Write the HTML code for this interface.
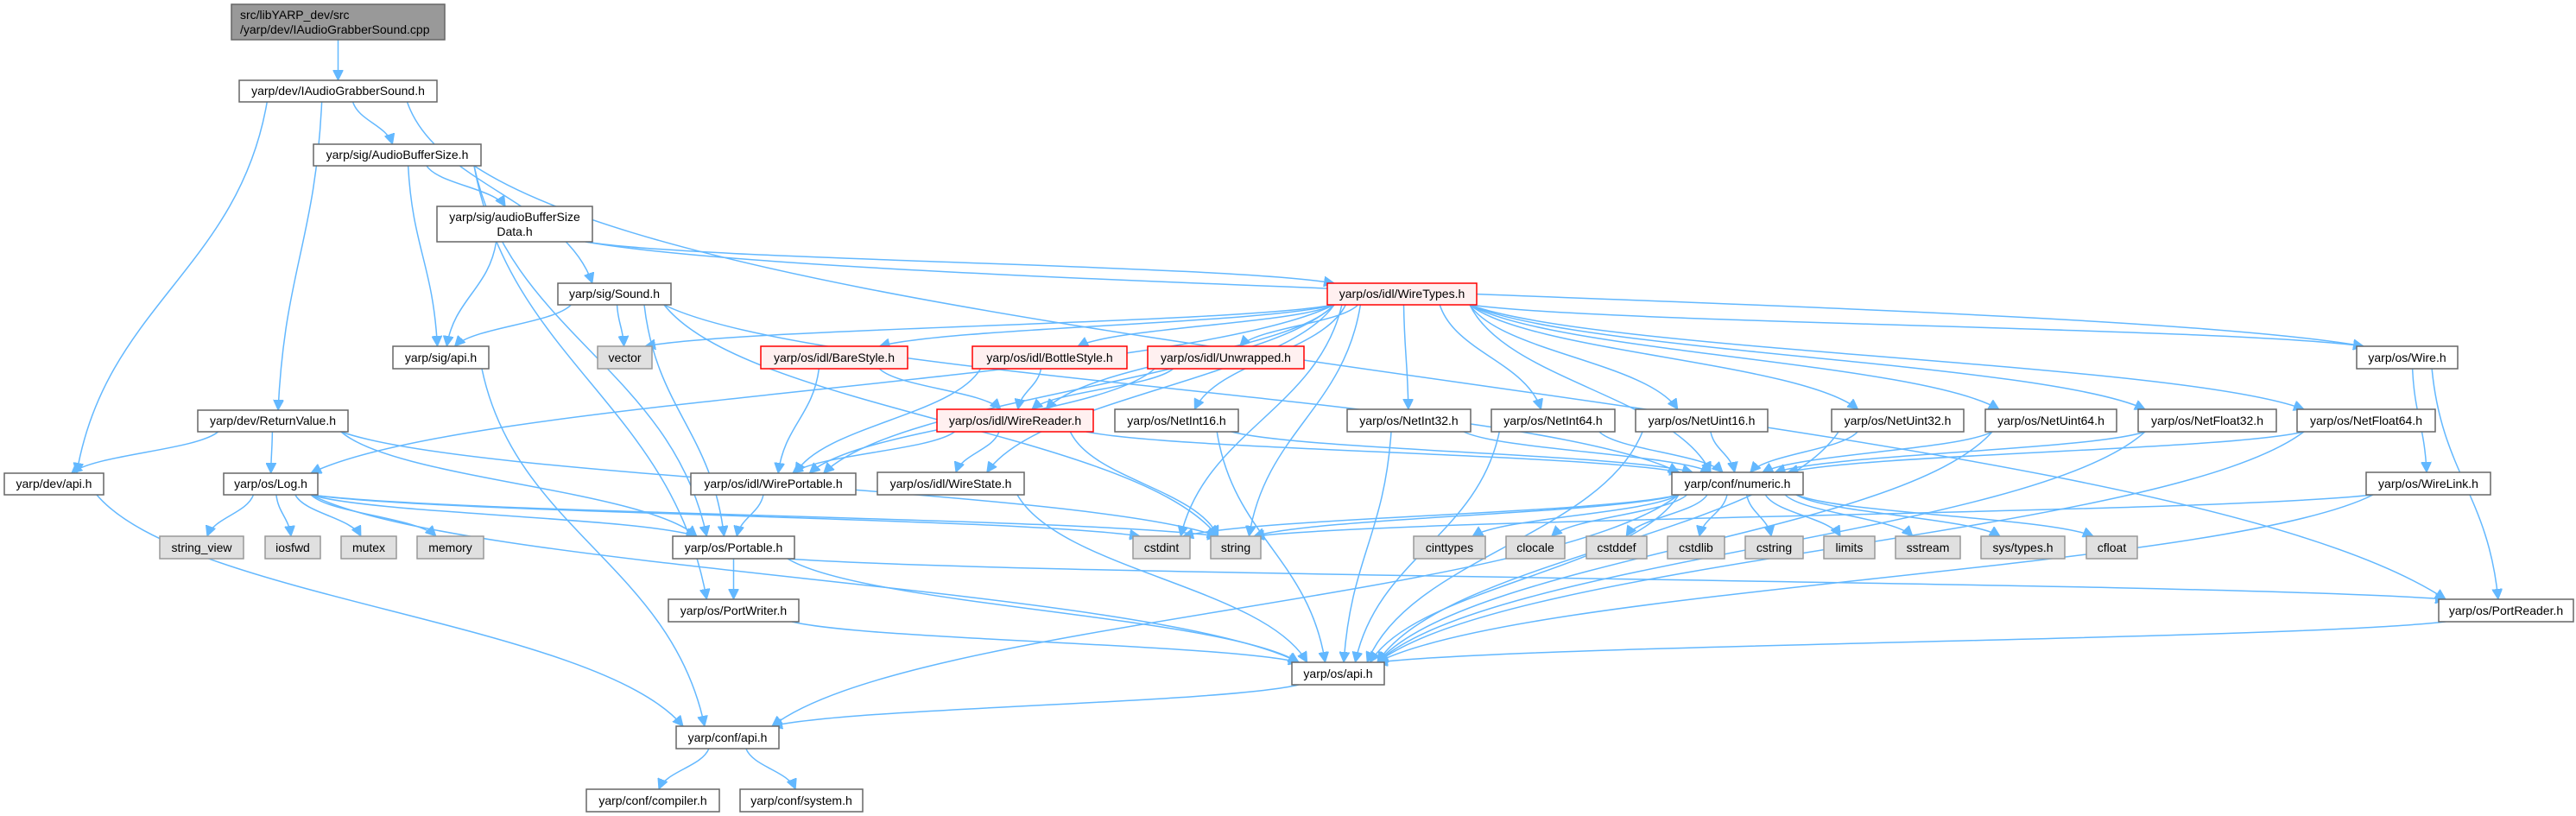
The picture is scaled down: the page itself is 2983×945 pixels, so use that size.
<!DOCTYPE html>
<html><head><meta charset="utf-8"><style>
html,body{margin:0;padding:0;background:#fff;}
svg{display:block;}
text{font-family:"Liberation Sans","DejaVu Sans",sans-serif;font-size:14px;fill:#000;}
.n rect{fill:#fff;stroke:#666;stroke-width:1.5;}
.g rect{fill:#e0e0e0;stroke:#999;stroke-width:1.5;}
.r rect{fill:#fff0f0;stroke:#f00;stroke-width:1.5;}
.c rect{fill:#999;stroke:#666;stroke-width:1.5;}
#edges path{fill:none;stroke:#63b8ff;stroke-width:1.5;}
</style></head><body>
<svg id="s" width="2983" height="945" viewBox="0 0 2983 945" xmlns="http://www.w3.org/2000/svg">
<defs><marker id="a" markerUnits="userSpaceOnUse" markerWidth="14" markerHeight="12" refX="12" refY="6" orient="auto"><path d="M0,0 L12,6 L0,12 z" fill="#63b8ff" stroke="#63b8ff"/></marker></defs>
<g id="edges"></g>
<g id="nodes">
<g class="c" id="cpp" data-r="268,5,247,41"><rect x="268" y="5" width="247" height="41"/><text x="278" y="22">src/libYARP_dev/src</text><text x="278" y="39">/yarp/dev/IAudioGrabberSound.cpp</text></g>
<g class="n" id="IAGS" data-r="277,93,229,25"><rect x="277" y="93" width="229" height="25"/><text x="391.5" y="110" text-anchor="middle">yarp/dev/IAudioGrabberSound.h</text></g>
<g class="n" id="ABS" data-r="363,167,194,25"><rect x="363" y="167" width="194" height="25"/><text x="460" y="184" text-anchor="middle">yarp/sig/AudioBufferSize.h</text></g>
<g class="n" id="ABSD" data-r="506,239,180,41"><rect x="506" y="239" width="180" height="41"/><text x="596" y="256" text-anchor="middle">yarp/sig/audioBufferSize</text><text x="596" y="273" text-anchor="middle">Data.h</text></g>
<g class="n" id="Sound" data-r="646,328,131,25"><rect x="646" y="328" width="131" height="25"/><text x="711.5" y="345" text-anchor="middle">yarp/sig/Sound.h</text></g>
<g class="n" id="sigapi" data-r="455,401,111,26"><rect x="455" y="401" width="111" height="26"/><text x="510.5" y="419" text-anchor="middle">yarp/sig/api.h</text></g>
<g class="g" id="vector" data-r="692,401,63,26"><rect x="692" y="401" width="63" height="26"/><text x="723.5" y="419" text-anchor="middle">vector</text></g>
<g class="r" id="BareStyle" data-r="881,401,170,26"><rect x="881" y="401" width="170" height="26"/><text x="966" y="419" text-anchor="middle">yarp/os/idl/BareStyle.h</text></g>
<g class="r" id="BottleStyle" data-r="1126,401,179,26"><rect x="1126" y="401" width="179" height="26"/><text x="1215.5" y="419" text-anchor="middle">yarp/os/idl/BottleStyle.h</text></g>
<g class="r" id="Unwrapped" data-r="1329,401,181,26"><rect x="1329" y="401" width="181" height="26"/><text x="1419.5" y="419" text-anchor="middle">yarp/os/idl/Unwrapped.h</text></g>
<g class="r" id="WireTypes" data-r="1537,328,173,25"><rect x="1537" y="328" width="173" height="25"/><text x="1623.5" y="345" text-anchor="middle">yarp/os/idl/WireTypes.h</text></g>
<g class="n" id="Wire" data-r="2729,401,117,26"><rect x="2729" y="401" width="117" height="26"/><text x="2787.5" y="419" text-anchor="middle">yarp/os/Wire.h</text></g>
<g class="n" id="ReturnValue" data-r="229,475,174,25"><rect x="229" y="475" width="174" height="25"/><text x="316" y="492" text-anchor="middle">yarp/dev/ReturnValue.h</text></g>
<g class="r" id="WireReader" data-r="1085,474,181,26"><rect x="1085" y="474" width="181" height="26"/><text x="1175.5" y="492" text-anchor="middle">yarp/os/idl/WireReader.h</text></g>
<g class="n" id="NetInt16" data-r="1291,474,143,26"><rect x="1291" y="474" width="143" height="26"/><text x="1362.5" y="492" text-anchor="middle">yarp/os/NetInt16.h</text></g>
<g class="n" id="NetInt32" data-r="1560,474,143,26"><rect x="1560" y="474" width="143" height="26"/><text x="1631.5" y="492" text-anchor="middle">yarp/os/NetInt32.h</text></g>
<g class="n" id="NetInt64" data-r="1727,474,143,26"><rect x="1727" y="474" width="143" height="26"/><text x="1798.5" y="492" text-anchor="middle">yarp/os/NetInt64.h</text></g>
<g class="n" id="NetUint16" data-r="1894,474,153,26"><rect x="1894" y="474" width="153" height="26"/><text x="1970.5" y="492" text-anchor="middle">yarp/os/NetUint16.h</text></g>
<g class="n" id="NetUint32" data-r="2121,474,153,26"><rect x="2121" y="474" width="153" height="26"/><text x="2197.5" y="492" text-anchor="middle">yarp/os/NetUint32.h</text></g>
<g class="n" id="NetUint64" data-r="2299,474,152,26"><rect x="2299" y="474" width="152" height="26"/><text x="2375" y="492" text-anchor="middle">yarp/os/NetUint64.h</text></g>
<g class="n" id="NetFloat32" data-r="2476,474,160,26"><rect x="2476" y="474" width="160" height="26"/><text x="2556" y="492" text-anchor="middle">yarp/os/NetFloat32.h</text></g>
<g class="n" id="NetFloat64" data-r="2660,474,160,26"><rect x="2660" y="474" width="160" height="26"/><text x="2740" y="492" text-anchor="middle">yarp/os/NetFloat64.h</text></g>
<g class="n" id="devapi" data-r="5,548,115,25"><rect x="5" y="548" width="115" height="25"/><text x="62.5" y="565" text-anchor="middle">yarp/dev/api.h</text></g>
<g class="n" id="Log" data-r="259,548,109,25"><rect x="259" y="548" width="109" height="25"/><text x="313.5" y="565" text-anchor="middle">yarp/os/Log.h</text></g>
<g class="n" id="WirePortable" data-r="800,548,191,25"><rect x="800" y="548" width="191" height="25"/><text x="895.5" y="565" text-anchor="middle">yarp/os/idl/WirePortable.h</text></g>
<g class="n" id="WireState" data-r="1016,547,170,26"><rect x="1016" y="547" width="170" height="26"/><text x="1101" y="565" text-anchor="middle">yarp/os/idl/WireState.h</text></g>
<g class="n" id="numeric" data-r="1936,547,152,26"><rect x="1936" y="547" width="152" height="26"/><text x="2012" y="565" text-anchor="middle">yarp/conf/numeric.h</text></g>
<g class="n" id="WireLink" data-r="2740,547,144,26"><rect x="2740" y="547" width="144" height="26"/><text x="2812" y="565" text-anchor="middle">yarp/os/WireLink.h</text></g>
<g class="g" id="string_view" data-r="185,621,97,26"><rect x="185" y="621" width="97" height="26"/><text x="233.5" y="639" text-anchor="middle">string_view</text></g>
<g class="g" id="iosfwd" data-r="307,621,64,26"><rect x="307" y="621" width="64" height="26"/><text x="339" y="639" text-anchor="middle">iosfwd</text></g>
<g class="g" id="mutex" data-r="395,621,64,26"><rect x="395" y="621" width="64" height="26"/><text x="427" y="639" text-anchor="middle">mutex</text></g>
<g class="g" id="memory" data-r="483,621,77,26"><rect x="483" y="621" width="77" height="26"/><text x="521.5" y="639" text-anchor="middle">memory</text></g>
<g class="g" id="cstdint" data-r="1312,621,66,26"><rect x="1312" y="621" width="66" height="26"/><text x="1345" y="639" text-anchor="middle">cstdint</text></g>
<g class="g" id="string" data-r="1402,621,58,26"><rect x="1402" y="621" width="58" height="26"/><text x="1431" y="639" text-anchor="middle">string</text></g>
<g class="g" id="cinttypes" data-r="1637,621,83,26"><rect x="1637" y="621" width="83" height="26"/><text x="1678.5" y="639" text-anchor="middle">cinttypes</text></g>
<g class="g" id="clocale" data-r="1744,621,68,26"><rect x="1744" y="621" width="68" height="26"/><text x="1778" y="639" text-anchor="middle">clocale</text></g>
<g class="g" id="cstddef" data-r="1837,621,70,26"><rect x="1837" y="621" width="70" height="26"/><text x="1872" y="639" text-anchor="middle">cstddef</text></g>
<g class="g" id="cstdlib" data-r="1931,621,66,26"><rect x="1931" y="621" width="66" height="26"/><text x="1964" y="639" text-anchor="middle">cstdlib</text></g>
<g class="g" id="cstring" data-r="2021,621,67,26"><rect x="2021" y="621" width="67" height="26"/><text x="2054.5" y="639" text-anchor="middle">cstring</text></g>
<g class="g" id="limits" data-r="2112,621,59,26"><rect x="2112" y="621" width="59" height="26"/><text x="2141.5" y="639" text-anchor="middle">limits</text></g>
<g class="g" id="sstream" data-r="2195,621,75,26"><rect x="2195" y="621" width="75" height="26"/><text x="2232.5" y="639" text-anchor="middle">sstream</text></g>
<g class="g" id="systypes" data-r="2294,621,97,26"><rect x="2294" y="621" width="97" height="26"/><text x="2342.5" y="639" text-anchor="middle">sys/types.h</text></g>
<g class="g" id="cfloat" data-r="2416,621,59,26"><rect x="2416" y="621" width="59" height="26"/><text x="2445.5" y="639" text-anchor="middle">cfloat</text></g>
<g class="n" id="Portable" data-r="779,621,141,26"><rect x="779" y="621" width="141" height="26"/><text x="849.5" y="639" text-anchor="middle">yarp/os/Portable.h</text></g>
<g class="n" id="PortWriter" data-r="774,694,151,26"><rect x="774" y="694" width="151" height="26"/><text x="849.5" y="712" text-anchor="middle">yarp/os/PortWriter.h</text></g>
<g class="n" id="PortReader" data-r="2824,694,156,26"><rect x="2824" y="694" width="156" height="26"/><text x="2902" y="712" text-anchor="middle">yarp/os/PortReader.h</text></g>
<g class="n" id="osapi" data-r="1496,767,107,26"><rect x="1496" y="767" width="107" height="26"/><text x="1549.5" y="785" text-anchor="middle">yarp/os/api.h</text></g>
<g class="n" id="confapi" data-r="783,841,119,26"><rect x="783" y="841" width="119" height="26"/><text x="842.5" y="859" text-anchor="middle">yarp/conf/api.h</text></g>
<g class="n" id="compiler" data-r="679,914,154,26"><rect x="679" y="914" width="154" height="26"/><text x="756" y="932" text-anchor="middle">yarp/conf/compiler.h</text></g>
<g class="n" id="system" data-r="857,914,142,26"><rect x="857" y="914" width="142" height="26"/><text x="928" y="932" text-anchor="middle">yarp/conf/system.h</text></g>
</g>
</svg>
<script>
(function(){
var E="cpp>IAGS IAGS>ABS IAGS>devapi IAGS>ReturnValue IAGS>Sound ABS>ABSD ABS>sigapi ABS>PortReader ABS>Portable ABS>PortWriter ABSD>sigapi ABSD>WireTypes ABSD>Wire Sound>sigapi Sound>vector Sound>Portable Sound>string Sound>numeric sigapi>confapi ReturnValue>devapi ReturnValue>Log ReturnValue>Portable ReturnValue>string devapi>confapi Log>string_view Log>iosfwd Log>mutex Log>memory Log>cstdint Log>string Log>osapi Log>Portable WireTypes>BareStyle WireTypes>BottleStyle WireTypes>Unwrapped WireTypes>WireReader WireTypes>NetInt16 WireTypes>NetInt32 WireTypes>NetInt64 WireTypes>NetUint16 WireTypes>NetUint32 WireTypes>NetUint64 WireTypes>NetFloat32 WireTypes>NetFloat64 WireTypes>Wire WireTypes>WireState WireTypes>WirePortable WireTypes>Log WireTypes>vector WireTypes>cstdint WireTypes>string WireTypes>numeric BareStyle>WireReader BareStyle>WirePortable BottleStyle>WireReader BottleStyle>WirePortable Unwrapped>WireReader Unwrapped>WirePortable WireReader>WirePortable WireReader>WireState WireReader>string WireReader>numeric WirePortable>Portable WireState>osapi NetInt16>numeric NetInt16>osapi NetInt32>numeric NetInt32>osapi NetInt64>numeric NetInt64>osapi NetUint16>numeric NetUint16>osapi NetUint32>numeric NetUint32>osapi NetUint64>numeric NetUint64>osapi NetFloat32>numeric NetFloat32>osapi NetFloat64>numeric NetFloat64>osapi numeric>cstdint numeric>string numeric>cinttypes numeric>clocale numeric>cstddef numeric>cstdlib numeric>cstring numeric>limits numeric>sstream numeric>systypes numeric>cfloat numeric>osapi numeric>confapi Portable>PortWriter Portable>PortReader Portable>osapi PortWriter>osapi PortReader>osapi osapi>confapi confapi>compiler confapi>system Wire>WireLink Wire>PortReader WireLink>string WireLink>osapi".split(" ");
function R(id){var v=document.getElementById(id).getAttribute("data-r").split(",").map(Number);return {x:v[0],y:v[1],w:v[2],h:v[3],cx:v[0]+v[2]/2,cy:v[1]+v[3]/2};}
function cl(v,a,b){return Math.max(a,Math.min(b,v));}
var g=document.getElementById("edges"),out="";
E.forEach(function(e){
 var p=e.split(">"),s=R(p[0]),t=R(p[1]);
 var dx=t.cx-s.cx, dy=t.y-(s.y+s.h), d;
 if(dy>5){
  var x1=s.cx+cl(dx*0.25,-s.w/2+8,s.w/2-8), y1=s.y+s.h;
  var x2=t.cx+cl(-dx*0.08,-t.w/2+8,t.w/2-8), y2=t.y;
  var k=(y2-y1)*0.45;
  var mx=x1+(x2-x1)*0.15, nx=x2-(x2-x1)*0.15;
  d="M"+x1+","+y1+" C"+mx+","+(y1+k)+" "+nx+","+(y2-k)+" "+x2+","+y2;
 } else {
  var right=dx>0;
  var x1=right?s.x+s.w:s.x, y1=s.cy;
  var x2=right?t.x:t.x+t.w, y2=t.cy;
  d="M"+x1+","+y1+" L"+x2+","+y2;
 }
 out+='<path d="'+d+'" marker-end="url(#a)"/>';
});
g.innerHTML=out;
})();
</script>
</body></html>
